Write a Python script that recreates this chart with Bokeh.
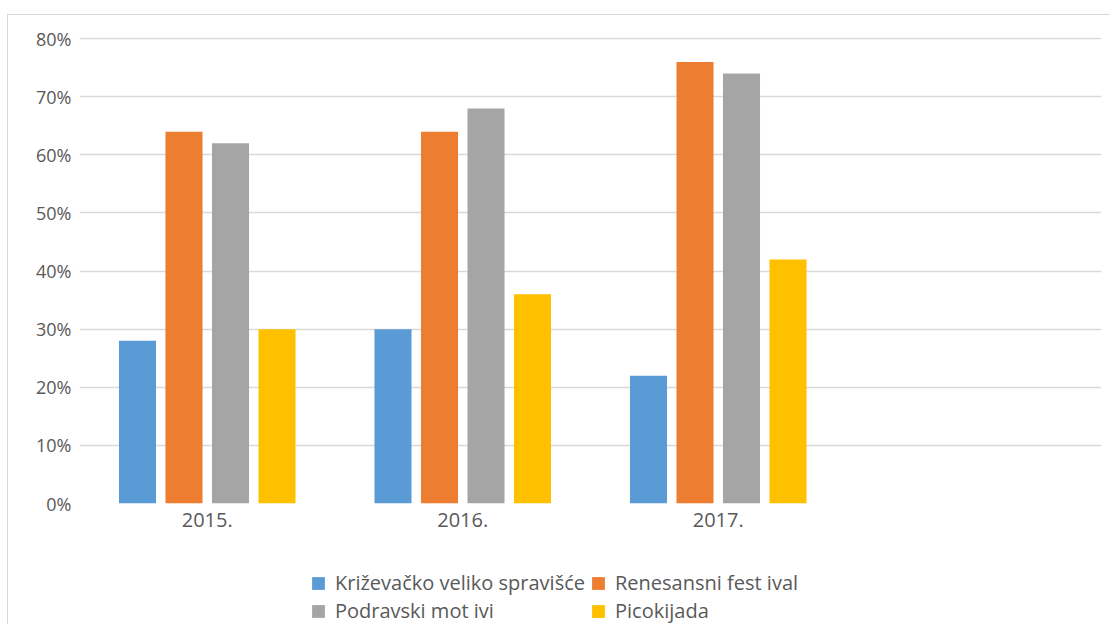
from bokeh.plotting import figure
from bokeh.layouts import column
from bokeh.models import (Range1d, FixedTicker, NumeralTickFormatter, Legend,
                          LegendItem, ColumnDataSource, InlineStyleSheet)
from bokeh.embed import file_html
from bokeh.resources import INLINE

# ---- data ----
years = ["2015.", "2016.", "2017."]
n_slots = 4  # the category axis has a fourth, empty slot
series_names = ["Križevačko veliko spravišće", "Renesansni fest ival",
                "Podravski mot ivi", "Picokijada"]
krizevacko = [0.28, 0.30, 0.22]
renesansni = [0.64, 0.64, 0.76]
podravski = [0.62, 0.68, 0.74]
picokijada = [0.30, 0.36, 0.42]
colors = ["#5B9BD5", "#ED7D31", "#A5A5A5", "#FFC000"]
y_ticks = [0.0, 0.1, 0.2, 0.3, 0.4, 0.5, 0.6, 0.7, 0.8]

series = [krizevacko, renesansni, podravski, picokijada]

# ---- main chart ----
p = figure(width=1110, height=545, output_backend="svg", toolbar_location=None,
           x_range=Range1d(0, n_slots), y_range=Range1d(0, 0.802),
           min_border_left=79, min_border_top=37, min_border_right=9,
           min_border_bottom=42)
p.outline_line_color = None
p.background_fill_color = "white"
p.border_fill_color = None

step = 0.182
bw = 0.145
offsets = [-1.5 * step, -0.5 * step, 0.5 * step, 1.5 * step]
for vals, off, col in zip(series, offsets, colors):
    src = ColumnDataSource(dict(x=[i + 0.5 + off for i in range(len(years))], top=vals))
    p.vbar(x="x", top="top", width=bw, bottom=0, source=src,
           fill_color=col, line_color=None)

p.xgrid.grid_line_color = None
p.ygrid.grid_line_color = "#D9D9D9"
p.ygrid.grid_line_width = 1.3
p.yaxis.ticker = FixedTicker(ticks=y_ticks)
p.yaxis.formatter = NumeralTickFormatter(format="0%")
p.xaxis.ticker = FixedTicker(ticks=[i + 0.5 for i in range(len(years))])
p.xaxis.major_label_overrides = {i + 0.5: y for i, y in enumerate(years)}
for ax in (p.xaxis[0], p.yaxis[0]):
    ax.axis_line_color = None
    ax.major_tick_line_color = None
    ax.minor_tick_line_color = None
    ax.major_tick_out = 0
    ax.major_tick_in = 0
    ax.major_label_text_color = "#595959"
    ax.major_label_text_font = "Open Sans"
p.yaxis.major_label_text_font_size = "18px"
p.xaxis.major_label_text_font_size = "20px"
p.yaxis.major_label_standoff = 8
p.xaxis.major_label_standoff = 9

# ---- legend strip below the chart (its frame is aligned with the chart's) ----
lg = figure(width=1110, height=79, output_backend="svg", toolbar_location=None,
            x_axis_location=None, y_axis_location=None,
            x_range=Range1d(0, 1), y_range=Range1d(0, 1), min_border=0)
lg.outline_line_color = None
lg.background_fill_color = None
lg.border_fill_color = None
lg.grid.grid_line_color = None
key_renderers = []
for col in colors:
    # zero-height key bars: they only supply the legend swatches
    r = lg.vbar(x=[0.5], top=[0], bottom=0, width=0.01, fill_color=col, line_color=None)
    key_renderers.append(r)

legend = Legend(items=[LegendItem(label=n, renderers=[r]) for n, r in zip(series_names, key_renderers)],
                location=(231, 0), orientation="horizontal", ncols=2)
legend.label_text_font = "Open Sans"
legend.label_text_font_size = "20px"
legend.label_text_color = "#595959"
legend.glyph_width = 16
legend.glyph_height = 16
legend.label_standoff = 9
legend.label_height = 20
legend.label_width = 254
legend.spacing = 1
legend.padding = 0
legend.margin = 0
legend.border_line_color = None
legend.background_fill_alpha = 0
lg.add_layout(legend, "center")

layout = column(p, lg, spacing=0)
layout.stylesheets = [InlineStyleSheet(css=(
    ":host { background:"
    " linear-gradient(#D9D9D9,#D9D9D9) 7px 14px / 1px 100% no-repeat,"
    " linear-gradient(#D9D9D9,#D9D9D9) 7px 14px / 100% 1px no-repeat,"
    " white; }"))]

open("out.html", "w").write(file_html(layout, INLINE))
